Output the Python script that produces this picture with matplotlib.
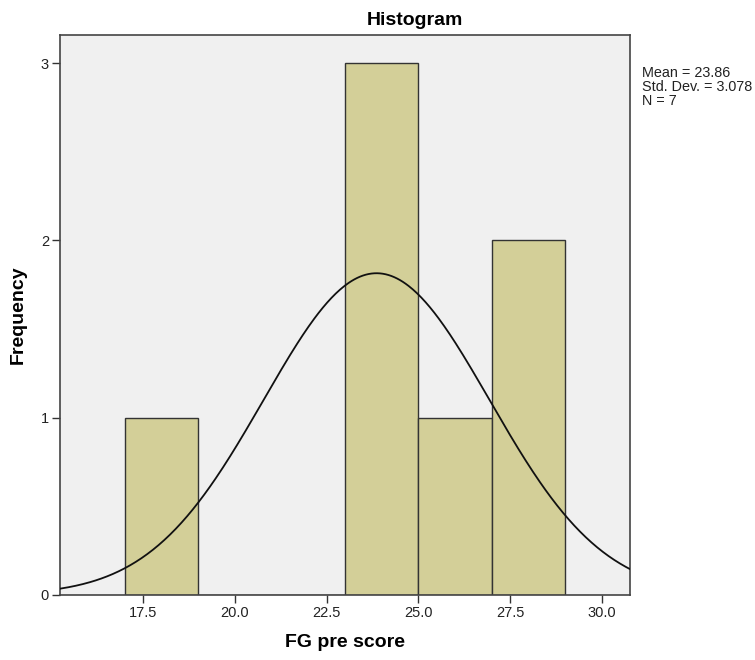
import numpy as np
import matplotlib.pyplot as plt

plt.rcParams["font.family"] = ["Liberation Sans", "DejaVu Sans"]

# data
bin_edges = [17, 19, 21, 23, 25, 27, 29]
counts = [1, 0, 0, 3, 1, 2]
mean = 23.86
std = 3.078
n = 7
xticks = [17.5, 20.0, 22.5, 25.0, 27.5, 30.0]
yticks = [0, 1, 2, 3]

fig = plt.figure(figsize=(7.55, 6.6), dpi=100)
ax = fig.add_axes([60 / 755, 65 / 660, 570 / 755, 560 / 660])
ax.set_facecolor("#f0f0f0")

lefts = bin_edges[:-1]
widths = np.diff(bin_edges)
ax.bar(lefts, counts, width=widths, align="edge", color="#d3cf98",
       edgecolor="#333333", linewidth=1.0, zorder=2)

# normal curve scaled to counts
binw = widths[0]
xs = np.linspace(15.23, 30.77, 400)
ys = n * binw * np.exp(-0.5 * ((xs - mean) / std) ** 2) / (std * np.sqrt(2 * np.pi))
ax.plot(xs, ys, color="#111111", linewidth=1.3, zorder=3)

ax.set_xlim(15.23, 30.77)
ax.set_ylim(0, 3.158)
ax.set_xticks(xticks)
ax.set_xticklabels(["%.1f" % t for t in xticks])
ax.set_yticks(yticks)
ax.tick_params(direction="out", length=6, width=1, color="#333333",
               labelsize=10.5, labelcolor="#222222", pad=2)
for s in ax.spines.values():
    s.set_color("#444444")
    s.set_linewidth(1.2)

fig.text(415 / 755, 1 - 25 / 660, "Histogram", fontsize=14, fontweight="bold",
         ha="center", va="baseline")
ax.set_xlabel("FG pre score", fontsize=14, fontweight="bold", labelpad=10)
ax.set_ylabel("Frequency", fontsize=14, fontweight="bold", labelpad=10)

fig.text(642 / 755, 1 - 66 / 660,
         "Mean = %.2f\nStd. Dev. = %.3f\nN = %d" % (mean, std, n),
         fontsize=10.4, va="top", ha="left", linespacing=1.0, color="#222222")

plt.savefig("out.png", dpi=100)
